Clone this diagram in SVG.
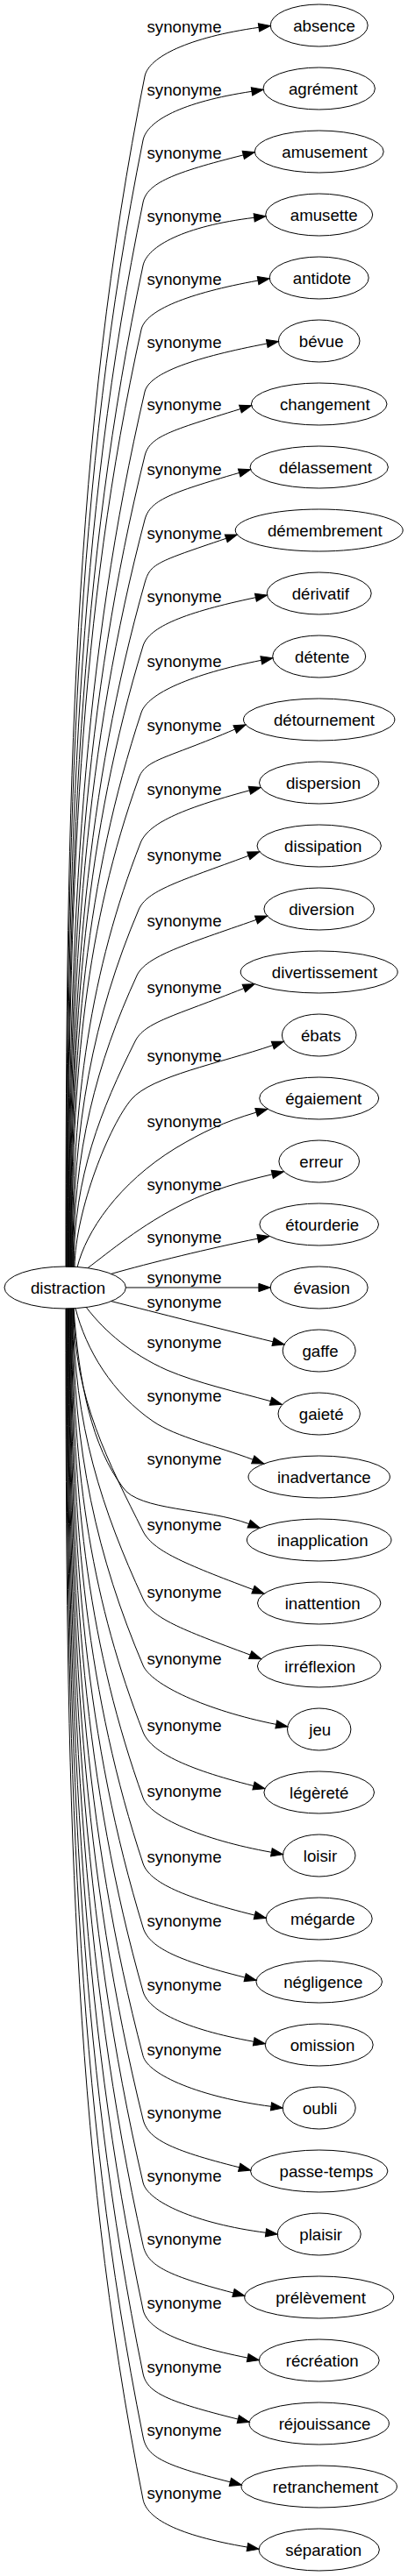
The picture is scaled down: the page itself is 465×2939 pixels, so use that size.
<svg xmlns="http://www.w3.org/2000/svg" width="465" height="2939" viewBox="0 0 465 2939">
<style>
text{font-family:"Liberation Sans",Arial,sans-serif;font-size:18.67px;fill:#000}
.n ellipse{fill:none;stroke:#000;stroke-width:1}
.n text{text-anchor:middle}
.e path{fill:none;stroke:#000;stroke-width:1;marker-end:url(#arr)}
.e text{text-anchor:middle}
</style>
<defs>
<marker id="arr" markerUnits="userSpaceOnUse" markerWidth="14" markerHeight="10" viewBox="0 0 14 10" refX="0" refY="4.67" orient="auto" overflow="visible">
<path d="M0,0 L13.3,4.67 L0,9.33 Z" fill="#000" stroke="#000" stroke-width="1"/>
</marker>
</defs>
<rect width="465" height="2939" fill="#fff"/>
<g id="connectors">
<g class="e" id="e0"><path d="M75,1445.5 C75,902.1 83.5,494.6 165,87 C169.4,65 215,42.5 295,31.3"/><text x="210" y="37.2">synonyme</text></g>
<g class="e" id="e1"><path d="M75.6,1445.5 C75.6,931.3 85.5,545.7 163,160 C167.4,138 207,116.3 287,104.3"/><text x="210" y="108.8">synonyme</text></g>
<g class="e" id="e2"><path d="M76.2,1445.5 C76.2,959.7 88.3,595.4 163,231 C167.5,209 197.3,196.9 277.3,176.9"/><text x="210" y="180.5">synonyme</text></g>
<g class="e" id="e3"><path d="M76.8,1445.5 C76.8,988.5 90.3,645.8 163,303 C167.7,281 209.7,257.9 289.7,248.3"/><text x="210" y="252.8">synonyme</text></g>
<g class="e" id="e4"><path d="M77.4,1445.5 C77.4,1017.7 90.1,696.9 161,376 C165.9,354 214.1,334.5 294.1,320.1"/><text x="210" y="324.8">synonyme</text></g>
<g class="e" id="e5"><path d="M78,1445.5 C78,1046.1 95.5,746.6 165,447 C170.1,425 224.3,407.2 304.3,392"/><text x="210" y="396.5">synonyme</text></g>
<g class="e" id="e6"><path d="M78.6,1445.5 C78.6,1075.3 96.7,797.7 165,520 C170.4,498 193.9,491.4 273.9,466.6"/><text x="210" y="468.2">synonyme</text></g>
<g class="e" id="e7"><path d="M79.2,1445.5 C79.2,1104.5 97.7,848.8 165,593 C170.8,571 192.7,562.6 272.7,539.4"/><text x="210" y="542.2">synonyme</text></g>
<g class="e" id="e8"><path d="M79.8,1445.5 C79.8,1133.3 99,899.2 165,665 C171.2,643 177.7,641.5 257.7,614.3"/><text x="210" y="614.5">synonyme</text></g>
<g class="e" id="e9"><path d="M80.4,1445.5 C80.4,1162.1 98.4,949.6 163,737 C169.7,715 211.4,698.5 291.4,681.7"/><text x="210" y="687.2">synonyme</text></g>
<g class="e" id="e10"><path d="M81,1445.5 C81,1192.5 98.4,1002.8 161,813 C168.3,791 217.8,769.3 297.8,753.3"/><text x="210" y="760.5">synonyme</text></g>
<g class="e" id="e11"><path d="M81.6,1445.5 C81.6,1222.5 98.1,1055.3 158,888 C165.9,866 187.8,866.4 267.8,832"/><text x="210" y="833.8">synonyme</text></g>
<g class="e" id="e12"><path d="M82.2,1445.5 C82.2,1252.1 103.6,1107 160,962 C168.6,940 204.4,923.4 284.4,901.8"/><text x="210" y="907.2">synonyme</text></g>
<g class="e" id="e13"><path d="M82.8,1445.5 C82.8,1282.5 106.3,1160.3 158,1038 C167.3,1016 203.3,1005.9 283.3,976.3"/><text x="210" y="981.5">synonyme</text></g>
<g class="e" id="e14"><path d="M83.4,1445.5 C83.4,1312.5 110.2,1212.8 156,1113 C166.1,1091 212,1077.4 292,1049.4"/><text x="210" y="1057.2">synonyme</text></g>
<g class="e" id="e15"><path d="M84,1445.5 C84,1342.5 115.4,1265.3 154,1188 C165,1166 197.9,1159.6 277.9,1127.6"/><text x="210" y="1132.8">synonyme</text></g>
<g class="e" id="e16"><path d="M85,1445.5 C86,1380 125,1283 150,1254 C172.5,1227.9 250.8,1213 310.8,1192.6"/><text x="210" y="1211.2">synonyme</text></g>
<g class="e" id="e17"><path d="M88,1446 C98,1405 135,1350 200,1310 C230,1292 255,1280 292.1,1269.1"/><text x="210" y="1286.2">synonyme</text></g>
<g class="e" id="e18"><path d="M100,1446.7 C125,1428 160,1398 210,1373 C240,1358 275,1348 310.3,1339.8"/><text x="210" y="1357.8">synonyme</text></g>
<g class="e" id="e19"><path d="M126.7,1453.4 C170,1441 240,1424 293.8,1413.1"/><text x="210" y="1418.2">synonyme</text></g>
<g class="e" id="e20"><path d="M143.4,1469 L294.9,1469"/><text x="210" y="1463.8">synonyme</text></g>
<g class="e" id="e21"><path d="M126.7,1484.6 C180,1498 250,1516 311.1,1530.8"/><text x="210" y="1491.5">synonyme</text></g>
<g class="e" id="e22"><path d="M98.3,1491.5 C120,1520 150,1545 190,1563 C225,1578 270,1588 308.5,1598.7"/><text x="210" y="1538.2">synonyme</text></g>
<g class="e" id="e23"><path d="M86,1492.6 C98,1540 128,1590 175,1622 C200,1639 248.3,1650.3 288.3,1665.3"/><text x="210" y="1598.8">synonyme</text></g>
<g class="e" id="e24"><path d="M84,1492.8 C90,1580 105,1650 140,1697 C158,1724 235.7,1720.6 283.7,1738.6"/><text x="210" y="1670.5">synonyme</text></g>
<g class="e" id="e25"><path d="M84,1492.8 C84,1594.5 124.9,1670.7 163,1747 C174,1769 208.5,1783.6 288.5,1813.6"/><text x="210" y="1746.2">synonyme</text></g>
<g class="e" id="e26"><path d="M83.4,1492.8 C83.4,1625.3 117.3,1724.6 163,1824 C173.1,1846 205.2,1858.5 285.2,1888.1"/><text x="210" y="1823.2">synonyme</text></g>
<g class="e" id="e27"><path d="M82.8,1492.8 C82.8,1655.7 111.3,1777.8 163,1900 C172.3,1922 234.8,1951.4 314.8,1967.4"/><text x="210" y="1898.8">synonyme</text></g>
<g class="e" id="e28"><path d="M82.2,1492.8 C82.2,1686.1 106.6,1831 163,1976 C171.6,1998 209,2017.5 289,2037.5"/><text x="210" y="1974.8">synonyme</text></g>
<g class="e" id="e29"><path d="M81.6,1492.8 C81.6,1716.1 103.1,1883.5 163,2051 C170.9,2073 229.4,2098.9 309.4,2113.3"/><text x="210" y="2049.8">synonyme</text></g>
<g class="e" id="e30"><path d="M81,1492.8 C81,1746.1 100.3,1936 163,2126 C170.3,2148 210.3,2165.1 290.3,2185.1"/><text x="210" y="2124.8">synonyme</text></g>
<g class="e" id="e31"><path d="M80.4,1492.8 C80.4,1775.3 98.4,1987.1 163,2199 C169.7,2221 199.2,2236.1 279.2,2256.1"/><text x="210" y="2198.2">synonyme</text></g>
<g class="e" id="e32"><path d="M79.8,1492.8 C79.8,1804.5 96.8,2038.2 163,2272 C169.2,2294 209.2,2314.9 289.2,2329.3"/><text x="210" y="2271.2">synonyme</text></g>
<g class="e" id="e33"><path d="M79.2,1492.8 C79.2,1833.9 95.7,2089.7 163,2345.5 C168.8,2367.5 229,2392.9 309,2403.3"/><text x="210" y="2344.5">synonyme</text></g>
<g class="e" id="e34"><path d="M78.6,1492.8 C78.6,1862.9 94.7,2140.4 163,2418 C168.4,2440 192.7,2452.8 272.7,2472.8"/><text x="210" y="2417.2">synonyme</text></g>
<g class="e" id="e35"><path d="M78,1492.8 C78,1891.7 93.6,2190.8 163,2490 C168.1,2512 223,2536.9 303,2547.3"/><text x="210" y="2488.8">synonyme</text></g>
<g class="e" id="e36"><path d="M77.4,1492.8 C77.4,1920.3 92.1,2240.9 163,2561.5 C167.9,2583.5 186,2595.2 266,2616"/><text x="210" y="2560.5">synonyme</text></g>
<g class="e" id="e37"><path d="M76.8,1492.8 C76.8,1949.7 90.4,2292.3 163,2635 C167.7,2657 202.2,2674.1 282.2,2690.1"/><text x="210" y="2633.8">synonyme</text></g>
<g class="e" id="e38"><path d="M76.2,1492.8 C76.2,1978.9 88.3,2343.4 163,2708 C167.5,2730 191.3,2740.1 271.3,2760.1"/><text x="210" y="2707.2">synonyme</text></g>
<g class="e" id="e39"><path d="M75.6,1492.8 C75.6,2007.7 85.4,2393.8 163,2780 C167.4,2802 182.4,2811.8 262.4,2831.8"/><text x="210" y="2778.8">synonyme</text></g>
<g class="e" id="e40"><path d="M75,1492.8 C75,2036.3 81.5,2443.9 163,2851.5 C167.4,2873.5 201.9,2892.5 281.9,2906.1"/><text x="210" y="2850.5">synonyme</text></g>
</g>
<g class="n" id="distraction"><ellipse cx="74.2" cy="1469" rx="69.2" ry="24"/><text x="77.5" y="1475.5">distraction</text></g>
<g class="n" id="absence"><ellipse cx="363.7" cy="29" rx="55.5" ry="24"/><text x="369.5" y="35.5">absence</text></g>
<g class="n" id="agrement"><ellipse cx="363.7" cy="101" rx="63.7" ry="24"/><text x="368.3" y="107.5">agrément</text></g>
<g class="n" id="amusement"><ellipse cx="363.7" cy="173" rx="73.5" ry="24"/><text x="370" y="179.5">amusement</text></g>
<g class="n" id="amusette"><ellipse cx="363.7" cy="245" rx="61" ry="24"/><text x="369.2" y="251.5">amusette</text></g>
<g class="n" id="antidote"><ellipse cx="363.7" cy="317" rx="56.5" ry="24"/><text x="367" y="323.5">antidote</text></g>
<g class="n" id="bevue"><ellipse cx="363.7" cy="389" rx="46.3" ry="24"/><text x="366.2" y="395.5">bévue</text></g>
<g class="n" id="changement"><ellipse cx="363.7" cy="461" rx="77.3" ry="24"/><text x="370.3" y="467.5">changement</text></g>
<g class="n" id="delassement"><ellipse cx="363.7" cy="533" rx="78.7" ry="24"/><text x="371" y="539.5">délassement</text></g>
<g class="n" id="demembrement"><ellipse cx="363.7" cy="605" rx="95.5" ry="24"/><text x="370.3" y="611.5">démembrement</text></g>
<g class="n" id="derivatif"><ellipse cx="363.7" cy="677" rx="59.5" ry="24"/><text x="365.3" y="683.5">dérivatif</text></g>
<g class="n" id="detente"><ellipse cx="363.7" cy="749" rx="53" ry="24"/><text x="367.2" y="755.5">détente</text></g>
<g class="n" id="detournement"><ellipse cx="363.7" cy="821" rx="86.2" ry="24"/><text x="369.5" y="827.5">détournement</text></g>
<g class="n" id="dispersion"><ellipse cx="363.7" cy="893" rx="68.2" ry="24"/><text x="368.5" y="899.5">dispersion</text></g>
<g class="n" id="dissipation"><ellipse cx="363.7" cy="965" rx="70.7" ry="24"/><text x="368.2" y="971.5">dissipation</text></g>
<g class="n" id="diversion"><ellipse cx="363.7" cy="1037" rx="62.8" ry="24"/><text x="366.5" y="1043.5">diversion</text></g>
<g class="n" id="divertissement"><ellipse cx="363.7" cy="1109" rx="89.5" ry="24"/><text x="370" y="1115.5">divertissement</text></g>
<g class="n" id="ebats"><ellipse cx="363.7" cy="1181" rx="42.3" ry="24"/><text x="365.8" y="1187.5">ébats</text></g>
<g class="n" id="egaiement"><ellipse cx="363.7" cy="1253" rx="68" ry="24"/><text x="368.7" y="1259.5">égaiement</text></g>
<g class="n" id="erreur"><ellipse cx="363.7" cy="1325" rx="45.8" ry="24"/><text x="366.2" y="1331.5">erreur</text></g>
<g class="n" id="etourderie"><ellipse cx="363.7" cy="1397" rx="67.8" ry="24"/><text x="367.2" y="1403.5">étourderie</text></g>
<g class="n" id="evasion"><ellipse cx="363.7" cy="1469" rx="55.5" ry="24"/><text x="366.7" y="1475.5">évasion</text></g>
<g class="n" id="gaffe"><ellipse cx="363.7" cy="1541" rx="41.5" ry="24"/><text x="365" y="1547.5">gaffe</text></g>
<g class="n" id="gaiete"><ellipse cx="363.7" cy="1613" rx="46.7" ry="24"/><text x="366.2" y="1619.5">gaieté</text></g>
<g class="n" id="inadvertance"><ellipse cx="363.7" cy="1685" rx="80.7" ry="24"/><text x="369.3" y="1691.5">inadvertance</text></g>
<g class="n" id="inapplication"><ellipse cx="363.7" cy="1757" rx="82.3" ry="24"/><text x="367.8" y="1763.5">inapplication</text></g>
<g class="n" id="inattention"><ellipse cx="363.7" cy="1829" rx="70.2" ry="24"/><text x="367.7" y="1835.5">inattention</text></g>
<g class="n" id="irreflexion"><ellipse cx="363.7" cy="1901" rx="70.3" ry="24"/><text x="364.8" y="1907.5">irréflexion</text></g>
<g class="n" id="jeu"><ellipse cx="363.7" cy="1973" rx="36.2" ry="24"/><text x="364.7" y="1979.5">jeu</text></g>
<g class="n" id="legerete"><ellipse cx="363.7" cy="2045" rx="62.8" ry="24"/><text x="363.7" y="2051.5">légèreté</text></g>
<g class="n" id="loisir"><ellipse cx="363.7" cy="2117" rx="41.3" ry="24"/><text x="365" y="2123.5">loisir</text></g>
<g class="n" id="megarde"><ellipse cx="363.7" cy="2189" rx="60.5" ry="24"/><text x="367.7" y="2195.5">mégarde</text></g>
<g class="n" id="negligence"><ellipse cx="363.7" cy="2261" rx="71.8" ry="24"/><text x="368.3" y="2267.5">négligence</text></g>
<g class="n" id="omission"><ellipse cx="363.7" cy="2333" rx="61.5" ry="24"/><text x="367.5" y="2339.5">omission</text></g>
<g class="n" id="oubli"><ellipse cx="363.7" cy="2405" rx="41.5" ry="24"/><text x="364.7" y="2411.5">oubli</text></g>
<g class="n" id="passe-temps"><ellipse cx="363.7" cy="2477" rx="78.2" ry="24"/><text x="372" y="2483.5">passe-temps</text></g>
<g class="n" id="plaisir"><ellipse cx="363.7" cy="2549" rx="47.5" ry="24"/><text x="365.7" y="2555.5">plaisir</text></g>
<g class="n" id="prelevement"><ellipse cx="363.7" cy="2621" rx="85" ry="24"/><text x="365.5" y="2627.5">prélèvement</text></g>
<g class="n" id="recreation"><ellipse cx="363.7" cy="2693" rx="68.5" ry="24"/><text x="367.2" y="2699.5">récréation</text></g>
<g class="n" id="rejouissance"><ellipse cx="363.7" cy="2765" rx="79.7" ry="24"/><text x="370" y="2771.5">réjouissance</text></g>
<g class="n" id="retranchement"><ellipse cx="363.7" cy="2837" rx="88.7" ry="24"/><text x="371" y="2843.5">retranchement</text></g>
<g class="n" id="separation"><ellipse cx="363.7" cy="2909" rx="68.7" ry="24"/><text x="368.7" y="2915.5">séparation</text></g>
</svg>
